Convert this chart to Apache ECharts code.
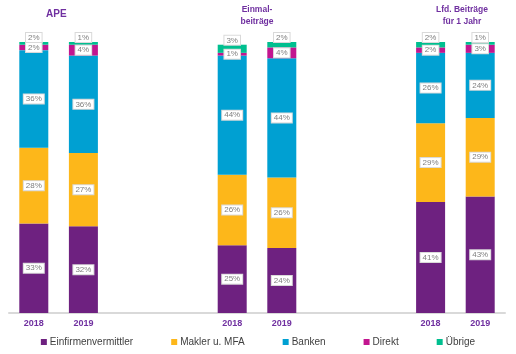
<!DOCTYPE html>
<html>
<head>
<meta charset="utf-8">
<script src="https://cdn.jsdelivr.net/npm/echarts@6/dist/echarts.min.js"></script>
<style>
  html, body { margin: 0; padding: 0; background: #fff; }
  #chart { width: 516px; height: 354px; }
</style>
</head>
<body>
<div id="chart"></div>
<script>
// Gruppen und Jahre (leere Plätze trennen die Gruppen)
var groups = ['APE', 'Einmal-\nbeiträge', 'Lfd. Beiträge\nfür 1 Jahr'];
var years = ['2018', '2019'];

// Anteile in % je Vertriebsweg: [APE 18, APE 19, Einmal 18, Einmal 19, Lfd 18, Lfd 19]
var einfirmen = [33, 32, 25, 24, 41, 43];
var makler    = [28, 27, 26, 26, 29, 29];
var banken    = [36, 36, 44, 44, 26, 24];
var direkt    = [2, 4, 1, 4, 2, 3];
var uebrige   = [2, 1, 3, 2, 2, 1];

var seriesNames = ['Einfirmenvermittler', 'Makler u. MFA', 'Banken', 'Direkt', 'Übrige'];
var seriesValues = [einfirmen, makler, banken, direkt, uebrige];
var colors = ['#6e2180', '#fdb71a', '#00a0d2', '#c2168f', '#00bf8f'];
// Übrige: Beschriftung über dem Balken, sonst mittig im Segment
var labelPos = ['inside', 'inside', 'inside', 'inside', 'top'];

// Kategorien: je Gruppe zwei Jahre, danach zwei leere Plätze
var categories = [];
groups.forEach(function (g, gi) {
    years.forEach(function (y) { categories.push(gi + '|' + y); });
    if (gi < groups.length - 1) {
        categories.push(gi + '|a');
        categories.push(gi + '|b');
    }
});

function spread(vals) {
    var out = [], k = 0;
    categories.forEach(function (c) {
        var y = c.split('|')[1];
        if (y === '2018' || y === '2019') { out.push(vals[k++]); }
        else { out.push(null); }
    });
    return out;
}

var chart = echarts.init(document.getElementById('chart'));

var series = seriesNames.map(function (name, i) {
    return {
        name: name,
        type: 'bar',
        stack: 'total',
        barWidth: 29,
        itemStyle: { color: colors[i] },
        label: {
            show: true,
            position: labelPos[i],
            distance: 0,
            formatter: function (p) { return p.value == null ? '' : p.value + '%'; },
            color: '#7f7f7f',
            fontSize: 8,
            fontFamily: 'Liberation Sans, Arial, sans-serif',
            backgroundColor: '#fff',
            borderColor: '#d9d9d9',
            borderWidth: 1,
            padding: [1, 2, 0, 2]
        },
        labelLayout: { hideOverlap: false },
        data: spread(seriesValues[i])
    };
});

var option = {
    animation: false,
    textStyle: { fontFamily: 'Liberation Sans, Arial, sans-serif' },
    grid: { left: 9, right: 11, top: 42, bottom: 41 },
    legend: {
        data: seriesNames,
        bottom: 2,
        left: 'center',
        icon: 'rect',
        itemWidth: 6,
        itemHeight: 6,
        itemGap: 38,
        textStyle: { color: '#404040', fontSize: 10, padding: [0, 0, 0, -2] }
    },
    xAxis: {
        type: 'category',
        data: categories,
        axisTick: { show: false },
        axisLine: { lineStyle: { color: '#d9d9d9', width: 2 } },
        axisLabel: {
            interval: 0,
            margin: 6,
            color: '#7030a0',
            fontWeight: 'bold',
            fontSize: 9,
            formatter: function (v) {
                var y = v.split('|')[1];
                return (y === '2018' || y === '2019') ? y : '';
            }
        }
    },
    yAxis: {
        type: 'value',
        min: 0,
        max: 100,
        show: false
    },
    graphic: [
        { type: 'text', left: 46, top: 9, style: { text: groups[0], fill: '#7030a0', font: 'bold 10px Liberation Sans, Arial, sans-serif' } },
        { type: 'text', x: 257, y: 4, style: { text: groups[1], fill: '#7030a0', align: 'center', lineHeight: 12, font: 'bold 8.5px Liberation Sans, Arial, sans-serif' } },
        { type: 'text', x: 462, y: 4, style: { text: groups[2], fill: '#7030a0', align: 'center', lineHeight: 12, font: 'bold 8.5px Liberation Sans, Arial, sans-serif' } }
    ],
    series: series
};

chart.setOption(option);
</script>
</body>
</html>
